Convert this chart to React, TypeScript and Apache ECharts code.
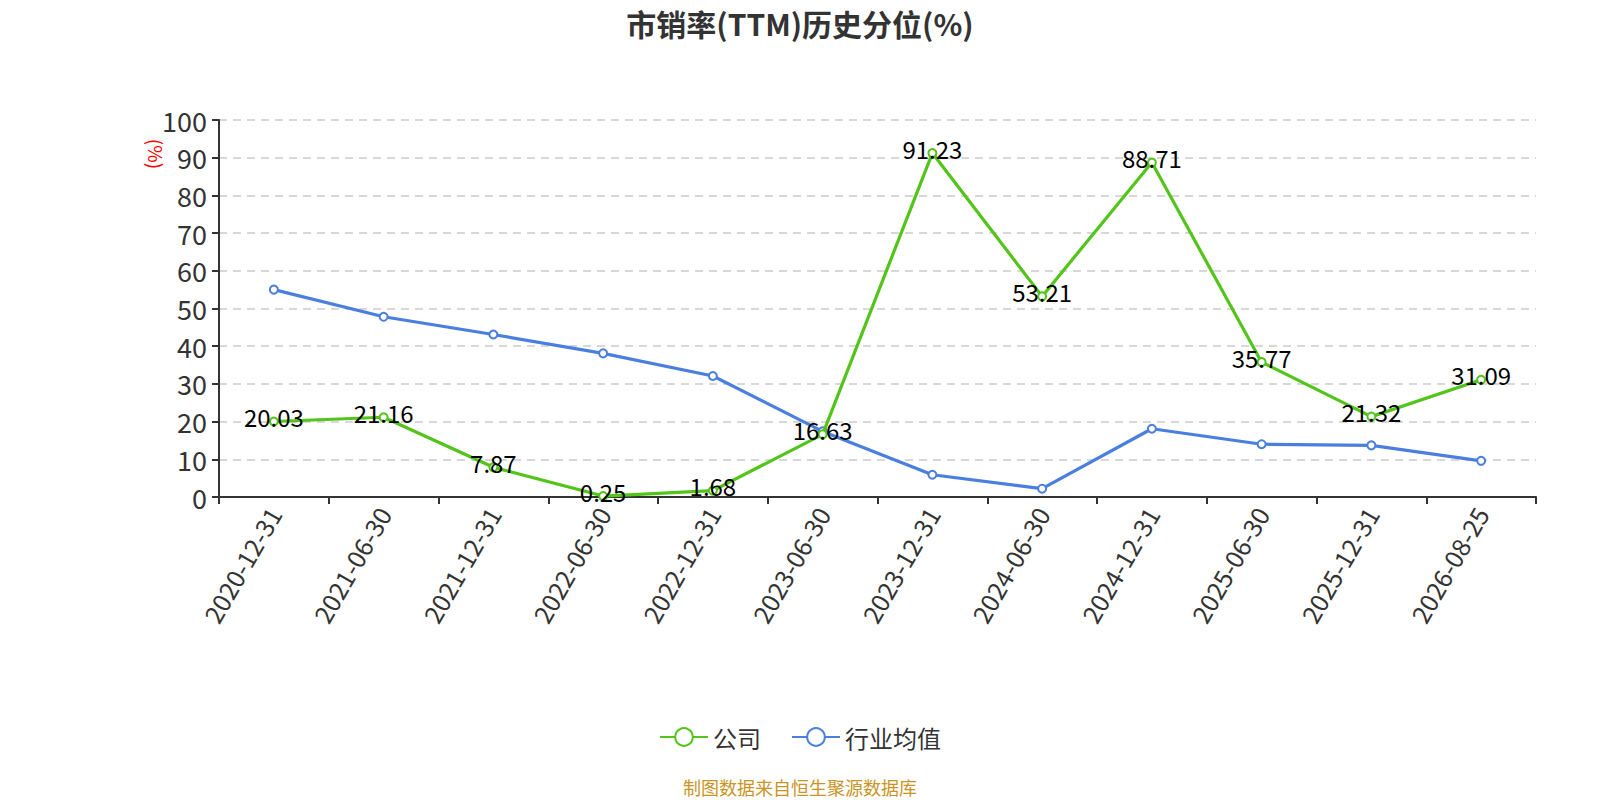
import React, { useEffect, useRef } from "react";
import * as echarts from "echarts";

const categories = [
  "2020-12-31", "2021-06-30", "2021-12-31", "2022-06-30", "2022-12-31", "2023-06-30",
  "2023-12-31", "2024-06-30", "2024-12-31", "2025-06-30", "2025-12-31", "2026-08-25",
];
const companyValues = [20.03, 21.16, 7.87, 0.25, 1.68, 16.63, 91.23, 53.21, 88.71, 35.77, 21.32, 31.09];
const industryValues = [55.0, 47.8, 43.1, 38.1, 32.1, 17.4, 5.9, 2.2, 18.1, 14.0, 13.7, 9.6];
const seriesNames = ["公司", "行业均值"];
const titleText = "市销率(TTM)历史分位(%)";
const footerText = "制图数据来自恒生聚源数据库";

const FONT = "'Noto Sans CJK SC', 'Noto Sans', sans-serif";

export default function App() {
  const ref = useRef<HTMLDivElement>(null);
  useEffect(() => {
    if (!ref.current) return;
    const chart = echarts.init(ref.current, undefined, { renderer: "svg" });
    chart.setOption({
      animation: false,
      textStyle: { fontFamily: FONT },
      title: {
        text: titleText,
        left: "center",
        top: 4,
        padding: [0, 5, 0, 5],
        textStyle: { fontSize: 30, fontWeight: "bold", color: "#333", fontFamily: FONT, lineHeight: 38 },
      },
      legend: {
        top: 720,
        left: "center",
        itemWidth: 48,
        itemHeight: 22,
        itemGap: 30,
        textStyle: { fontSize: 24, color: "#333", fontFamily: FONT },
        data: seriesNames,
      },
      grid: { left: 211, right: 56, top: 120, bottom: 303, containLabel: false },
      xAxis: {
        type: "category",
        data: categories,
        boundaryGap: true,
        axisLine: { lineStyle: { color: "#333", width: 2 } },
        axisTick: { show: true, length: 7, lineStyle: { color: "#333", width: 2 } },
        axisLabel: { rotate: 60, fontSize: 25, color: "#333", margin: 12, fontFamily: FONT },
      },
      yAxis: {
        type: "value",
        min: 0,
        max: 100,
        interval: 10,
        axisLine: { show: true, lineStyle: { color: "#333", width: 2 } },
        axisTick: { show: true, length: 7, lineStyle: { color: "#333", width: 2 } },
        axisLabel: { fontSize: 27, color: "#333", margin: 12, fontFamily: FONT },
        splitLine: { show: true, lineStyle: { color: "#ccc", type: [8, 6], width: 1.5 } },
      },
      graphic: [
        {
          type: "text",
          x: 148,
          y: 154,
          rotation: -Math.PI / 2,
          style: { text: "(%)", fill: "#ff0000", font: `19px ${FONT}`, align: "center", verticalAlign: "middle" },
        },
        {
          type: "text",
          left: "center",
          top: 778,
          style: { text: footerText, fill: "#c89424", font: `18px ${FONT}` },
        },
      ],
      series: [
        {
          name: seriesNames[0],
          type: "line",
          data: companyValues,
          symbol: "emptyCircle",
          symbolSize: 8,
          itemStyle: { color: "#52c41a" },
          lineStyle: { color: "#52c41a", width: 3.2 },
          label: { show: true, position: "inside", offset: [0, -5], fontSize: 24, color: "#000", fontFamily: FONT },
          z: 3,
        },
        {
          name: seriesNames[1],
          type: "line",
          data: industryValues,
          symbol: "emptyCircle",
          symbolSize: 8,
          itemStyle: { color: "#4a7fe0" },
          lineStyle: { color: "#4a7fe0", width: 3.2 },
          z: 2,
        },
      ],
    });
    return () => chart.dispose();
  }, []);
  return <div ref={ref} style={{ width: 1584, height: 800, marginTop: -8 }} />;
}
